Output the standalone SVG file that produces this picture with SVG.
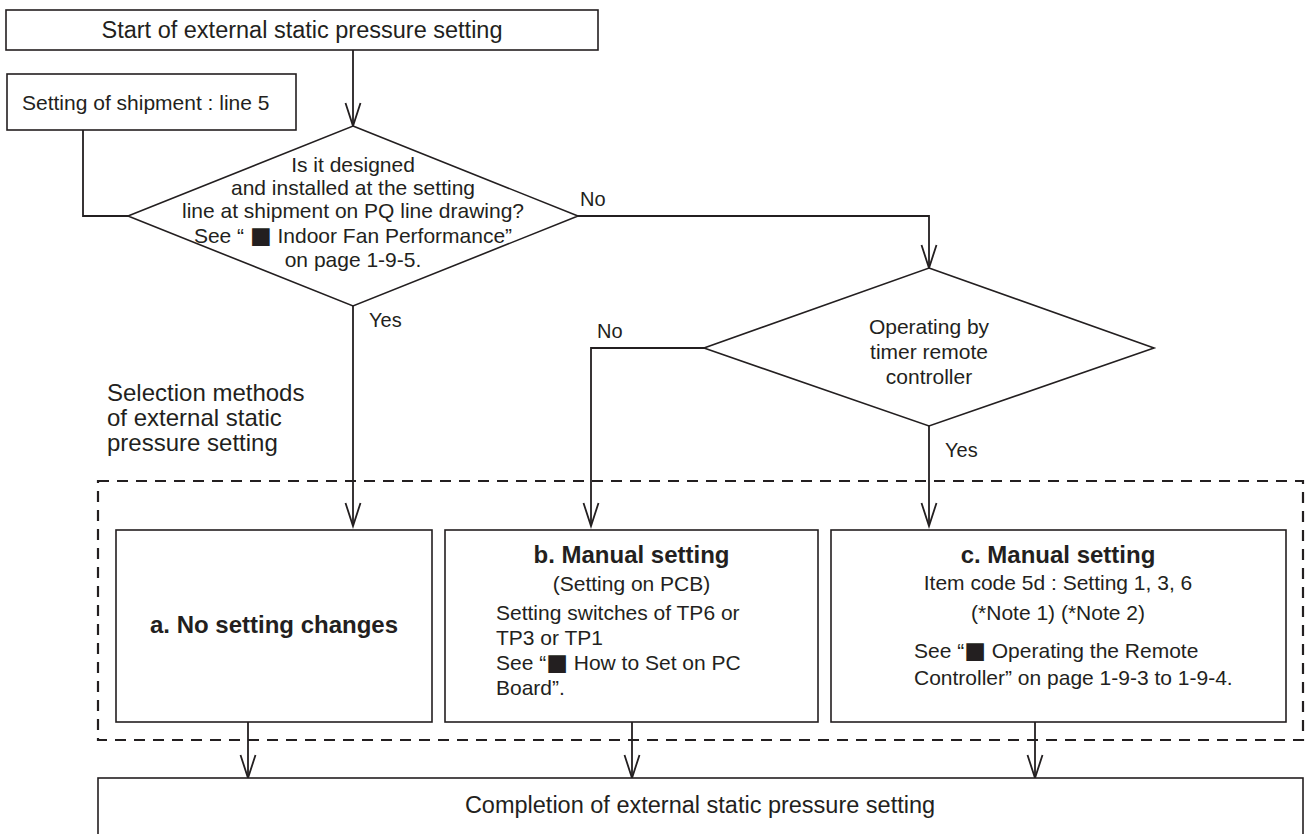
<svg xmlns="http://www.w3.org/2000/svg" width="1305" height="834" viewBox="0 0 1305 834">
<defs>
<style>
text{font-family:"Liberation Sans",Arial,sans-serif;fill:#231f20;font-size:21px}
.big{font-size:23.5px}
.sel{font-size:24px}
.lbl{font-size:20px}
.b{font-weight:bold;font-size:24px}
.m{text-anchor:middle}
.sq{font-family:"DejaVu Sans",sans-serif;font-size:23px}
.box{fill:#fff;stroke:#231f20;stroke-width:1.6}
.con{fill:none;stroke:#231f20;stroke-width:1.8}
.dash{fill:none;stroke:#231f20;stroke-width:2.2;stroke-dasharray:11 8}
</style>
<marker id="ah" markerUnits="userSpaceOnUse" markerWidth="30" markerHeight="20" viewBox="-25 -10 30 20" refX="0" refY="0" orient="auto">
<path d="M-23,-7.5 L0,0 L-23,7.5" fill="none" stroke="#231f20" stroke-width="1.8"/>
</marker>
</defs>
<rect width="1305" height="834" fill="#fff"/>
<rect class="dash" x="98" y="481" width="1205" height="259"/>
<text class="sel" x="107" y="401">Selection methods</text>
<text class="sel" x="107" y="426">of external static</text>
<text class="sel" x="107" y="451">pressure setting</text>
<g id="connectors">
<line class="con" x1="353" y1="50" x2="353" y2="126" marker-end="url(#ah)"/>
<polyline class="con" points="83,130 83,216 128,216"/>
<polyline class="con" points="578,216 929,216 929,268" marker-end="url(#ah)"/>
<line class="con" x1="353" y1="306" x2="353" y2="526" marker-end="url(#ah)"/>
<polyline class="con" points="704,348 591,348 591,526" marker-end="url(#ah)"/>
<line class="con" x1="929" y1="426" x2="929" y2="526" marker-end="url(#ah)"/>
<line class="con" x1="248" y1="722" x2="248" y2="778" marker-end="url(#ah)"/>
<line class="con" x1="632" y1="722" x2="632" y2="778" marker-end="url(#ah)"/>
<line class="con" x1="1035" y1="722" x2="1035" y2="778" marker-end="url(#ah)"/>
<text class="lbl" x="580" y="206">No</text>
<text class="lbl" x="369" y="327">Yes</text>
<text class="lbl" x="597" y="338">No</text>
<text class="lbl" x="945" y="457">Yes</text>
</g>
<g id="start">
<rect class="box" x="6" y="10" width="592" height="40"/>
<text class="big m" x="302" y="38">Start of external static pressure setting</text>
</g>
<g id="shipment">
<rect class="box" x="7" y="74" width="289" height="56"/>
<text x="22" y="110">Setting of shipment : line 5</text>
</g>
<g id="decision1">
<polygon class="box" points="353,126 578,216 353,306 128,216"/>
<text class="m" x="353" y="172">Is it designed</text>
<text class="m" x="353" y="195">and installed at the setting</text>
<text class="m" x="353" y="218">line at shipment on PQ line drawing?</text>
<text class="m" x="353" y="243">See “ <tspan class="sq">■</tspan> Indoor Fan Performance”</text>
<text class="m" x="353" y="267">on page 1-9-5.</text>
</g>
<g id="decision2">
<polygon class="box" points="929,268 1154,348 929,426 704,348"/>
<text class="m" x="929" y="334">Operating by</text>
<text class="m" x="929" y="359">timer remote</text>
<text class="m" x="929" y="384">controller</text>
</g>
<g id="boxA">
<rect class="box" x="116" y="530" width="316" height="192"/>
<text class="b m" x="274" y="633">a. No setting changes</text>
</g>
<g id="boxB">
<rect class="box" x="445" y="530" width="373" height="192"/>
<text class="b m" x="631.5" y="563">b. Manual setting</text>
<text class="m" x="631.5" y="591">(Setting on PCB)</text>
<text x="496" y="620">Setting switches of TP6 or</text>
<text x="496" y="645">TP3 or TP1</text>
<text x="496" y="670">See “<tspan class="sq">■</tspan> How to Set on PC</text>
<text x="496" y="695">Board”.</text>
</g>
<g id="boxC">
<rect class="box" x="831" y="530" width="455" height="192"/>
<text class="b m" x="1058" y="563">c. Manual setting</text>
<text class="m" x="1058" y="590">Item code 5d : Setting 1, 3, 6</text>
<text class="m" x="1058" y="620">(*Note 1) (*Note 2)</text>
<text x="914" y="658">See “<tspan class="sq">■</tspan> Operating the Remote</text>
<text x="914" y="685">Controller” on page 1-9-3 to 1-9-4.</text>
</g>
<g id="completion">
<rect class="box" x="98" y="778" width="1205" height="80"/>
<text class="big m" x="700" y="813">Completion of external static pressure setting</text>
</g>
</svg>
